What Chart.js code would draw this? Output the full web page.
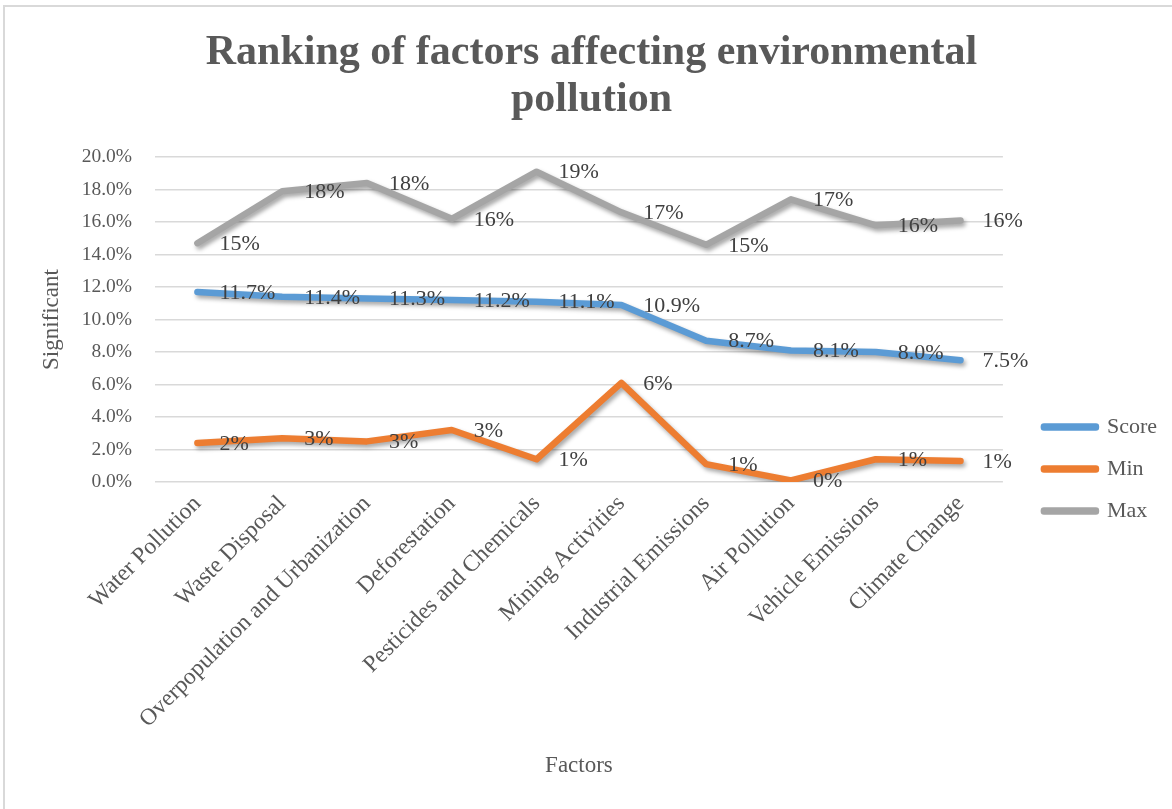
<!DOCTYPE html>
<html>
<head>
<meta charset="utf-8">
<script src="https://cdn.jsdelivr.net/npm/chart.js@4.4.1/dist/chart.umd.min.js"></script>
<style>
  html, body { margin: 0; padding: 0; background: #ffffff; }
  #wrap { position: relative; width: 1172px; height: 809px; }
</style>
</head>
<body>
<div id="wrap"><canvas id="c"></canvas></div>
<script>
// ---- data ----
const categories = [
  'Water Pollution', 'Waste Disposal', 'Overpopulation and Urbanization', 'Deforestation',
  'Pesticides and Chemicals', 'Mining Activities', 'Industrial Emissions', 'Air Pollution',
  'Vehicle Emissions', 'Climate Change'
];
const scoreValues = [11.7, 11.4, 11.3, 11.2, 11.1, 10.9, 8.7, 8.1, 8.0, 7.5];
const minValues   = [2.4, 2.7, 2.5, 3.2, 1.4, 6.1, 1.1, 0.1, 1.4, 1.3];
const maxValues   = [14.7, 17.9, 18.4, 16.2, 19.1, 16.6, 14.6, 17.4, 15.8, 16.1];
const seriesNames = ['Score', 'Min', 'Max'];
const labelDecimals = [1, 0, 0];
const titleLines = ['Ranking of factors affecting environmental', 'pollution'];
const yTitle = 'Significant';
const xTitle = 'Factors';

const SERIF = "'Liberation Serif', 'Times New Roman', serif";
const TXT = '#595959';
const colors = ['#5B9BD5', '#ED7D31', '#A5A5A5'];

const frame = {
  id: 'frame',
  beforeDraw(chart) {
    const ctx = chart.ctx;
    ctx.save();
    ctx.fillStyle = '#ffffff';
    ctx.fillRect(0, 0, chart.width, chart.height);
    ctx.strokeStyle = '#d9d9d9';
    ctx.lineWidth = 2;
    ctx.beginPath();
    ctx.moveTo(3, 6); ctx.lineTo(chart.width, 6);
    ctx.moveTo(4, 5); ctx.lineTo(4, chart.height);
    ctx.stroke();
    ctx.restore();
  }
};

const shadow = {
  id: 'shadow',
  beforeDatasetDraw(chart) {
    const ctx = chart.ctx;
    ctx.save();
    ctx.shadowColor = 'rgba(0,0,0,0.35)';
    ctx.shadowBlur = 4;
    ctx.shadowOffsetX = 2;
    ctx.shadowOffsetY = 3;
  },
  afterDatasetDraw(chart) {
    chart.ctx.restore();
  }
};

const dataLabels = {
  id: 'dataLabels',
  afterDatasetsDraw(chart) {
    const ctx = chart.ctx;
    ctx.save();
    ctx.font = '22px ' + SERIF;
    ctx.fillStyle = '#404040';
    ctx.textAlign = 'left';
    ctx.textBaseline = 'middle';
    chart.data.datasets.forEach((ds, i) => {
      const meta = chart.getDatasetMeta(i);
      meta.data.forEach((pt, j) => {
        const txt = ds.data[j].toFixed(labelDecimals[i]) + '%';
        ctx.fillText(txt, pt.x + 22, pt.y + 1);
      });
    });
    ctx.restore();
  }
};

function mkDataset(idx, values) {
  return {
    label: seriesNames[idx],
    data: values,
    borderColor: colors[idx],
    backgroundColor: colors[idx],
    borderWidth: 6.5,
    borderJoinStyle: 'round',
    borderCapStyle: 'round',
    pointRadius: 0,
    pointHoverRadius: 0,
    tension: 0,
    yAxisID: 'y'
  };
}

new Chart(document.getElementById('c'), {
  type: 'line',
  data: {
    labels: categories,
    datasets: [mkDataset(0, scoreValues), mkDataset(1, minValues), mkDataset(2, maxValues)]
  },
  plugins: [frame, shadow, dataLabels],
  options: {
    responsive: true,
    maintainAspectRatio: false,
    animation: false,
    devicePixelRatio: 1,
    layout: { padding: { left: 16, right: 5, top: 0, bottom: 0 } },
    plugins: {
      tooltip: { enabled: false },
      title: {
        display: true,
        text: titleLines,
        color: TXT,
        font: { family: SERIF, size: 42, weight: 'bold', lineHeight: 1.12 },
        padding: { top: 30, bottom: 33 }
      },
      legend: {
        display: true,
        position: 'right',
        align: 'center',
        title: { display: true, text: '', font: { size: 10, lineHeight: 1.2 }, padding: { top: 117, bottom: 0 } },
        labels: {
          boxWidth: 52,
          boxHeight: 1,
          padding: 20,
          color: TXT,
          font: { family: SERIF, size: 22 }
        }
      }
    },
    scales: {
      x: {
        type: 'category',
        offset: true,
        grid: { display: false, drawTicks: false },
        border: { display: false },
        ticks: {
          color: TXT,
          font: { family: SERIF, size: 23.5 },
          minRotation: 45,
          maxRotation: 45,
          autoSkip: false,
          padding: 8
        },
        title: {
          display: true,
          text: xTitle,
          color: TXT,
          font: { family: SERIF, size: 23, lineHeight: 1.2 },
          padding: { top: 0, bottom: 29 }
        },
        afterFit(scale) { scale.height = 327; }
      },
      y: {
        position: 'left',
        min: 0,
        max: 20,
        grid: { color: '#d9d9d9', lineWidth: 1.5, drawTicks: false },
        border: { display: false },
        ticks: {
          stepSize: 2,
          color: TXT,
          font: { family: SERIF, size: 19.5 },
          padding: 23,
          callback: (v) => v.toFixed(1) + '%'
        },
        title: {
          display: true,
          text: yTitle,
          color: TXT,
          font: { family: SERIF, size: 23, lineHeight: 1.2 },
          padding: { top: 22, bottom: 0 }
        },
        afterFit(scale) { scale.width = 139; }
      },
      spacer: {
        position: 'right',
        display: true,
        grid: { display: false, drawTicks: false },
        border: { display: false },
        ticks: { display: false },
        afterFit(scale) { scale.width = 21; }
      }
    }
  }
});
</script>
</body>
</html>
